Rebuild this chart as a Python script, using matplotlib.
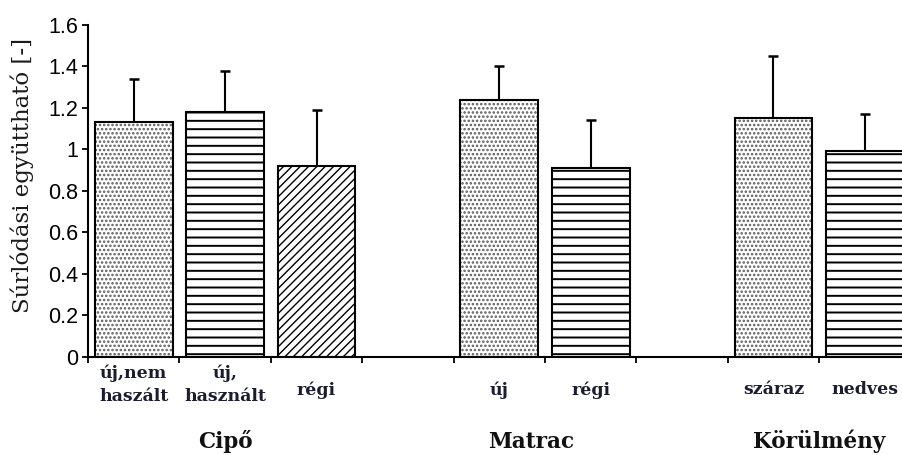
import numpy as np
import matplotlib
matplotlib.use("Agg")
import matplotlib.pyplot as plt

# slot layout: 9 slots on the x axis, two of them are empty gaps
bar_labels = ["új,nem\nhaszált", "új,\nhasznált", "régi", "új", "régi", "száraz", "nedves"]
bar_slots = [0, 1, 2, 4, 5, 7, 8]
bar_values = [1.13, 1.18, 0.92, 1.24, 0.91, 1.15, 0.99]
bar_errors = [0.21, 0.20, 0.27, 0.16, 0.23, 0.30, 0.18]
bar_fills = ["dots", "lines", "diag", "dots", "lines", "dots", "lines"]

group_names = ["Cipő", "Matrac", "Körülmény"]
group_pos = [1.5, 4.85, 8.0]

y_ticks = [0, 0.2, 0.4, 0.6, 0.8, 1, 1.2, 1.4, 1.6]
y_ticklabels = ["0", "0.2", "0.4", "0.6", "0.8", "1", "1.2", "1.4", "1.6"]

label_color = "#1c1c30"

fig = plt.figure(figsize=(9.03, 4.55), dpi=100)
ax = fig.add_axes([88 / 903, (455 - 356.7) / 455, 1 - 88 / 903, (356.7 - 25) / 455])

x = np.array(bar_slots) + 0.5
vals = np.array(bar_values)
width = 0.85

styles = {
    "dots": dict(hatch="....", color="#5a5a5a", lw=1.2),
    "lines": dict(hatch="--", color="black", lw=1.4),
    "diag": dict(hatch="////", color="black", lw=1.0),
}

for kind, st in styles.items():
    idx = [i for i, f in enumerate(bar_fills) if f == kind]
    with plt.rc_context({"hatch.linewidth": st["lw"]}):
        ax.bar(x[idx], vals[idx], width=width, facecolor="white",
               edgecolor=st["color"], hatch=st["hatch"], linewidth=0, zorder=2)

# outlines
ax.bar(x, vals, width=width, fill=False, edgecolor="black", linewidth=1.5, zorder=3)

# one-sided error bars
ax.errorbar(x, vals, yerr=[np.zeros_like(vals), bar_errors], fmt="none",
            ecolor="black", elinewidth=1.5, capsize=3.3, capthick=1.8, zorder=1)

ax.set_ylim(0, 1.6)
ax.set_xlim(0, 815 / 91.4)
ax.set_yticks(y_ticks)
ax.set_yticklabels(y_ticklabels, fontfamily="Liberation Sans", fontsize=15.5)
ax.set_xticks(np.arange(0, 9))
ax.set_xticklabels([])
ax.tick_params(axis="both", direction="out", length=4, width=1.3, color="black")
ax.tick_params(axis="y", pad=3)

for s in ["top", "right"]:
    ax.spines[s].set_visible(False)
ax.spines["left"].set_linewidth(1.5)
ax.spines["bottom"].set_linewidth(1.5)

for xi, lab in zip(x, bar_labels):
    ypos = -0.135 if "\n" in lab else -0.16
    ax.text(xi, ypos, lab, ha="center", va="center",
            fontfamily="DejaVu Serif", fontweight="bold", fontsize=12.5,
            color=label_color, linespacing=1.4, clip_on=False)

for gx, gname in zip(group_pos, group_names):
    ax.text(gx, -0.41, gname, ha="center", va="center",
            fontfamily="DejaVu Serif", fontweight="bold", fontsize=15.5,
            color="#111111", clip_on=False)

fig.text(22 / 903, 1 - 175 / 455, "Súrlódási együttható [-]", rotation=90,
         ha="center", va="center", fontfamily="DejaVu Serif", fontsize=16.5,
         color="#1a1a1a")

fig.savefig("out.png", dpi=100, facecolor="white")
